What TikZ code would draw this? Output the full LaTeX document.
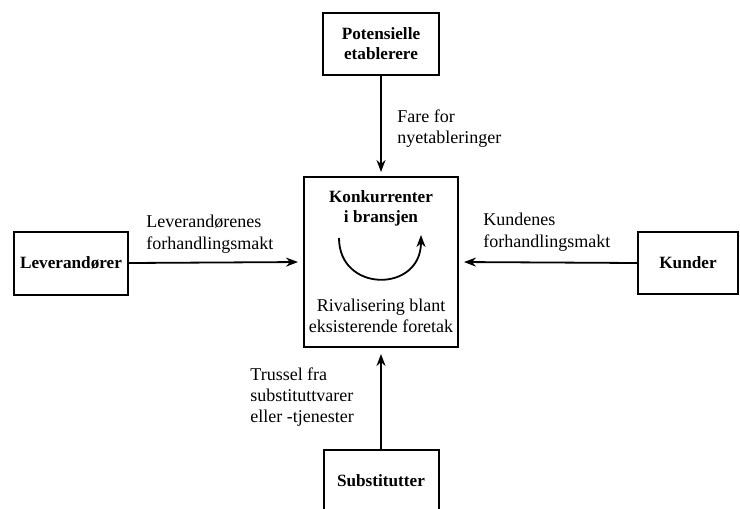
\documentclass[tikz,border=0pt]{standalone}
\usepackage{fontspec}
\setmainfont{Liberation Serif}
\usetikzlibrary{arrows.meta}
\tikzset{
	force/.style={draw, line width=1pt, align=center, inner sep=0pt, font=\fontsize{8.6}{10}\selectfont\bfseries},
	pressure/.style={-{Stealth[length=6pt,width=4.5pt]}, line width=0.9pt},
	remark/.style={align=left, anchor=north west, inner sep=0pt}
}

\begin{document}
\begin{tikzpicture}[x=0.5pt, y=-0.5pt, font=\fontsize{9}{10.7}\selectfont]
        \useasboundingbox (0, 0) rectangle (740, 509);
        \node[force, minimum width=58pt, minimum height=31pt] (entrants) at (381, 44) {Potensielle\\etablerere};
        \node[force, minimum width=77pt, minimum height=85pt] (rivals) at (381, 262) {};
        \node[force, minimum width=57pt, minimum height=31.5pt] (suppliers) at (71, 263) {Leverandører};
        \node[force, minimum width=50pt, minimum height=31pt] (buyers) at (688, 263) {Kunder};
        \node[force, minimum width=57.5pt, minimum height=31pt] (substitutes) at (381, 481) {Substitutter};
        \node[align=center, inner sep=0pt, font=\fontsize{8.6}{10}\selectfont\bfseries] (rivals_title) at (381, 208) {Konkurrenter\\i bransjen};
        \node[align=center, inner sep=0pt] (rivals_text) at (381, 316) {Rivalisering blant\\eksisterende foretak};
        \coordinate (arc_start) at (339, 238);
        \coordinate (arc_end) at (421, 235);
        \draw[pressure] (arc_start) .. controls (339, 293) and (421, 293) .. (arc_end);
        \draw[pressure, shorten >=2pt] (entrants.south) -- (rivals.north);
        \draw[pressure, shorten >=2.5pt] (suppliers.east) -- (rivals.west);
        \draw[pressure, shorten >=2.5pt] (buyers.west) -- (rivals.east);
        \draw[pressure, shorten >=3pt] (substitutes.north) -- (rivals.south);
        \node[remark] (entry_threat) at (397, 109) {Fare for\\nyetableringer};
        \node[remark] (supplier_power) at (146, 215) {Leverandørenes\\forhandlingsmakt};
        \node[remark] (buyer_power) at (483, 213) {Kundenes\\forhandlingsmakt};
        \node[remark] (substitute_threat) at (250, 367) {Trussel fra\\substituttvarer\\eller -tjenester};
    \end{tikzpicture}
\end{document}
